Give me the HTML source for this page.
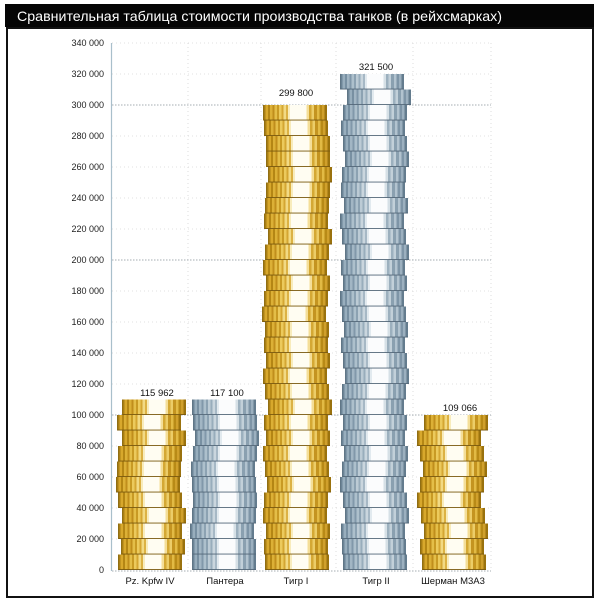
<!DOCTYPE html>
<html>
<head>
<meta charset="utf-8">
<style>
html,body{margin:0;padding:0;background:#fff;}
body{width:600px;height:600px;overflow:hidden;}
svg{display:block;}
text{font-family:"Liberation Sans",Arial,sans-serif;}
</style>
</head>
<body>
<svg width="600" height="600" viewBox="0 0 600 600" xmlns="http://www.w3.org/2000/svg">
<defs>
<linearGradient id="gold" x1="0" y1="0" x2="1" y2="0">
<stop offset="0" stop-color="#a87e14"/><stop offset="0.04" stop-color="#a87e14"/>
<stop offset="0.04" stop-color="#d8a82c"/><stop offset="0.08" stop-color="#d8a82c"/>
<stop offset="0.08" stop-color="#b48614"/><stop offset="0.11" stop-color="#b48614"/>
<stop offset="0.11" stop-color="#dcb036"/><stop offset="0.15" stop-color="#dcb036"/>
<stop offset="0.15" stop-color="#c08e1c"/><stop offset="0.18" stop-color="#c08e1c"/>
<stop offset="0.18" stop-color="#e4be48"/><stop offset="0.22" stop-color="#e4be48"/>
<stop offset="0.22" stop-color="#c89a24"/><stop offset="0.25" stop-color="#c89a24"/>
<stop offset="0.25" stop-color="#ecca5c"/><stop offset="0.29" stop-color="#ecca5c"/>
<stop offset="0.29" stop-color="#d4a632"/><stop offset="0.32" stop-color="#d4a632"/>
<stop offset="0.32" stop-color="#f2da84"/><stop offset="0.36" stop-color="#f2da84"/>
<stop offset="0.36" stop-color="#dcb244"/><stop offset="0.39" stop-color="#dcb244"/>
<stop offset="0.39" stop-color="#f8ecbc"/><stop offset="0.42" stop-color="#f8ecbc"/>
<stop offset="0.42" stop-color="#fffdf2"/><stop offset="0.68" stop-color="#fffdf2"/>
<stop offset="0.68" stop-color="#f4de98"/><stop offset="0.72" stop-color="#f4de98"/>
<stop offset="0.72" stop-color="#d4a834"/><stop offset="0.76" stop-color="#d4a834"/>
<stop offset="0.76" stop-color="#eccd68"/><stop offset="0.80" stop-color="#eccd68"/>
<stop offset="0.80" stop-color="#c49420"/><stop offset="0.84" stop-color="#c49420"/>
<stop offset="0.84" stop-color="#e2ba44"/><stop offset="0.88" stop-color="#e2ba44"/>
<stop offset="0.88" stop-color="#b88a16"/><stop offset="0.92" stop-color="#b88a16"/>
<stop offset="0.92" stop-color="#d0a02c"/><stop offset="0.96" stop-color="#d0a02c"/>
<stop offset="0.96" stop-color="#9a720e"/><stop offset="1" stop-color="#9a720e"/>
</linearGradient>
<linearGradient id="blue" x1="0" y1="0" x2="1" y2="0">
<stop offset="0" stop-color="#6c8496"/><stop offset="0.04" stop-color="#6c8496"/>
<stop offset="0.04" stop-color="#98aebd"/><stop offset="0.08" stop-color="#98aebd"/>
<stop offset="0.08" stop-color="#7890a2"/><stop offset="0.11" stop-color="#7890a2"/>
<stop offset="0.11" stop-color="#a2b6c4"/><stop offset="0.15" stop-color="#a2b6c4"/>
<stop offset="0.15" stop-color="#8198aa"/><stop offset="0.18" stop-color="#8198aa"/>
<stop offset="0.18" stop-color="#adc0cc"/><stop offset="0.22" stop-color="#adc0cc"/>
<stop offset="0.22" stop-color="#8ca2b2"/><stop offset="0.25" stop-color="#8ca2b2"/>
<stop offset="0.25" stop-color="#bccbd5"/><stop offset="0.29" stop-color="#bccbd5"/>
<stop offset="0.29" stop-color="#98adbc"/><stop offset="0.32" stop-color="#98adbc"/>
<stop offset="0.32" stop-color="#cad6de"/><stop offset="0.36" stop-color="#cad6de"/>
<stop offset="0.36" stop-color="#a6b8c5"/><stop offset="0.39" stop-color="#a6b8c5"/>
<stop offset="0.39" stop-color="#e2eaef"/><stop offset="0.42" stop-color="#e2eaef"/>
<stop offset="0.42" stop-color="#fbfcfd"/><stop offset="0.68" stop-color="#fbfcfd"/>
<stop offset="0.68" stop-color="#d6e0e6"/><stop offset="0.72" stop-color="#d6e0e6"/>
<stop offset="0.72" stop-color="#9cb0be"/><stop offset="0.76" stop-color="#9cb0be"/>
<stop offset="0.76" stop-color="#c2d0d9"/><stop offset="0.80" stop-color="#c2d0d9"/>
<stop offset="0.80" stop-color="#8aa0b0"/><stop offset="0.84" stop-color="#8aa0b0"/>
<stop offset="0.84" stop-color="#b2c3cf"/><stop offset="0.88" stop-color="#b2c3cf"/>
<stop offset="0.88" stop-color="#7e95a7"/><stop offset="0.92" stop-color="#7e95a7"/>
<stop offset="0.92" stop-color="#9cb0bf"/><stop offset="0.96" stop-color="#9cb0bf"/>
<stop offset="0.96" stop-color="#647c8e"/><stop offset="1" stop-color="#647c8e"/>
</linearGradient>
<g id="G"><rect x="0" y="0" width="64" height="15.5" fill="url(#gold)"/><rect x="0" y="14.6" width="64" height="0.9" fill="#7a5a10"/><rect x="0" y="0" width="0.8" height="15.5" fill="#8a6a14"/></g>
<g id="B"><rect x="0" y="0" width="64" height="15.5" fill="url(#blue)"/><rect x="0" y="14.6" width="64" height="0.9" fill="#55697a"/><rect x="0" y="0" width="0.8" height="15.5" fill="#5e7282"/></g>
</defs>

<!-- frame -->
<rect x="7" y="28" width="586" height="569" fill="#fff" stroke="#111" stroke-width="2"/>
<!-- title bar -->
<rect x="5" y="4" width="589" height="23" fill="#050505"/>
<text x="17" y="21" font-size="14" fill="#fff" textLength="485" lengthAdjust="spacingAndGlyphs">Сравнительная таблица стоимости производства танков (в рейхсмарках)</text>

<!-- grid -->
<g stroke="#d6d6d6" stroke-width="0.8" stroke-dasharray="1,3" fill="none">
<line x1="112" y1="43" x2="491" y2="43"/>
<line x1="112" y1="74" x2="491" y2="74"/>
<line x1="112" y1="136" x2="491" y2="136"/>
<line x1="112" y1="167" x2="491" y2="167"/>
<line x1="112" y1="198" x2="491" y2="198"/>
<line x1="112" y1="229" x2="491" y2="229"/>
<line x1="112" y1="291" x2="491" y2="291"/>
<line x1="112" y1="322" x2="491" y2="322"/>
<line x1="112" y1="353" x2="491" y2="353"/>
<line x1="112" y1="384" x2="491" y2="384"/>
<line x1="112" y1="446" x2="491" y2="446"/>
<line x1="112" y1="477" x2="491" y2="477"/>
<line x1="112" y1="508" x2="491" y2="508"/>
<line x1="112" y1="539" x2="491" y2="539"/>
<line x1="491" y1="43" x2="491" y2="571"/>
<line x1="188" y1="43" x2="188" y2="571"/>
<line x1="261" y1="43" x2="261" y2="571"/>
<line x1="336" y1="43" x2="336" y2="571"/>
<line x1="413" y1="43" x2="413" y2="571"/>
</g>
<g stroke="#a4acb2" stroke-width="1" stroke-dasharray="1.5,1.5" fill="none">
<line x1="112" y1="105" x2="491" y2="105"/>
<line x1="112" y1="260" x2="491" y2="260"/>
<line x1="112" y1="415" x2="491" y2="415"/>
<line x1="112" y1="571" x2="491" y2="571"/>
</g>
<line x1="111.5" y1="43" x2="111.5" y2="571" stroke="#a9bfcb" stroke-width="1.2"/>

<!-- y labels -->
<g font-size="9" fill="#222" text-anchor="end">
<text x="104" y="46">340 000</text>
<text x="104" y="77">320 000</text>
<text x="104" y="108">300 000</text>
<text x="104" y="139">280 000</text>
<text x="104" y="170">260 000</text>
<text x="104" y="201">240 000</text>
<text x="104" y="232">220 000</text>
<text x="104" y="263">200 000</text>
<text x="104" y="294">180 000</text>
<text x="104" y="325">160 000</text>
<text x="104" y="356">140 000</text>
<text x="104" y="387">120 000</text>
<text x="104" y="418">100 000</text>
<text x="104" y="449">80 000</text>
<text x="104" y="480">60 000</text>
<text x="104" y="511">40 000</text>
<text x="104" y="542">20 000</text>
<text x="104" y="573">0</text>
</g>

<!-- Pz IV -->
<use href="#G" x="122" y="399.5"/><use href="#G" x="117" y="415"/><use href="#G" x="122" y="430.5"/><use href="#G" x="118" y="446"/><use href="#G" x="117" y="461.5"/><use href="#G" x="116" y="477"/><use href="#G" x="118" y="492.5"/><use href="#G" x="122" y="508"/><use href="#G" x="118" y="523.5"/><use href="#G" x="121" y="539"/><use href="#G" x="118" y="554.5"/>
<!-- Panther -->
<use href="#B" x="192" y="399.5"/><use href="#B" x="193" y="415"/><use href="#B" x="195" y="430.5"/><use href="#B" x="193" y="446"/><use href="#B" x="191" y="461.5"/><use href="#B" x="192" y="477"/><use href="#B" x="193" y="492.5"/><use href="#B" x="192" y="508"/><use href="#B" x="190" y="523.5"/><use href="#B" x="192" y="539"/><use href="#B" x="192" y="554.5"/>
<!-- Tiger I -->
<use href="#G" x="263" y="105"/><use href="#G" x="264" y="120.5"/><use href="#G" x="266" y="136"/><use href="#G" x="266" y="151.5"/><use href="#G" x="268" y="167"/><use href="#G" x="266" y="182.5"/><use href="#G" x="265" y="198"/><use href="#G" x="264" y="213.5"/><use href="#G" x="268" y="229"/><use href="#G" x="265" y="244.5"/><use href="#G" x="263" y="260"/><use href="#G" x="266" y="275.5"/><use href="#G" x="264" y="291"/><use href="#G" x="262" y="306.5"/><use href="#G" x="265" y="322"/><use href="#G" x="264" y="337.5"/><use href="#G" x="266" y="353"/><use href="#G" x="263" y="368.5"/><use href="#G" x="265" y="384"/><use href="#G" x="268" y="399.5"/><use href="#G" x="264" y="415"/><use href="#G" x="266" y="430.5"/><use href="#G" x="263" y="446"/><use href="#G" x="265" y="461.5"/><use href="#G" x="267" y="477"/><use href="#G" x="264" y="492.5"/><use href="#G" x="263" y="508"/><use href="#G" x="266" y="523.5"/><use href="#G" x="264" y="539"/><use href="#G" x="265" y="554.5"/>
<!-- Tiger II -->
<use href="#B" x="340" y="74"/><use href="#B" x="347" y="89.5"/><use href="#B" x="343" y="105"/><use href="#B" x="341" y="120.5"/><use href="#B" x="343" y="136"/><use href="#B" x="345" y="151.5"/><use href="#B" x="342" y="167"/><use href="#B" x="341" y="182.5"/><use href="#B" x="344" y="198"/><use href="#B" x="340" y="213.5"/><use href="#B" x="342" y="229"/><use href="#B" x="345" y="244.5"/><use href="#B" x="341" y="260"/><use href="#B" x="343" y="275.5"/><use href="#B" x="340" y="291"/><use href="#B" x="342" y="306.5"/><use href="#B" x="344" y="322"/><use href="#B" x="341" y="337.5"/><use href="#B" x="343" y="353"/><use href="#B" x="345" y="368.5"/><use href="#B" x="342" y="384"/><use href="#B" x="340" y="399.5"/><use href="#B" x="343" y="415"/><use href="#B" x="341" y="430.5"/><use href="#B" x="344" y="446"/><use href="#B" x="342" y="461.5"/><use href="#B" x="340" y="477"/><use href="#B" x="343" y="492.5"/><use href="#B" x="345" y="508"/><use href="#B" x="341" y="523.5"/><use href="#B" x="342" y="539"/><use href="#B" x="343" y="554.5"/>
<!-- Sherman -->
<use href="#G" x="424" y="415"/><use href="#G" x="417" y="430.5"/><use href="#G" x="420" y="446"/><use href="#G" x="423" y="461.5"/><use href="#G" x="420" y="477"/><use href="#G" x="417" y="492.5"/><use href="#G" x="421" y="508"/><use href="#G" x="424" y="523.5"/><use href="#G" x="420" y="539"/><use href="#G" x="422" y="554.5"/>

<!-- value labels -->
<g font-size="9.5" fill="#111" text-anchor="middle">
<text x="157" y="396">115 962</text>
<text x="227" y="396">117 100</text>
<text x="296" y="96">299 800</text>
<text x="376" y="70">321 500</text>
<text x="460" y="411">109 066</text>
</g>
<!-- category labels -->
<g font-size="9.5" fill="#111" text-anchor="middle">
<text x="150" y="584">Pz. Kpfw IV</text>
<text x="225" y="584">Пантера</text>
<text x="296" y="584">Тигр I</text>
<text x="376" y="584">Тигр II</text>
<text x="453" y="584">Шерман M3A3</text>
</g>
</svg>
</body>
</html>
